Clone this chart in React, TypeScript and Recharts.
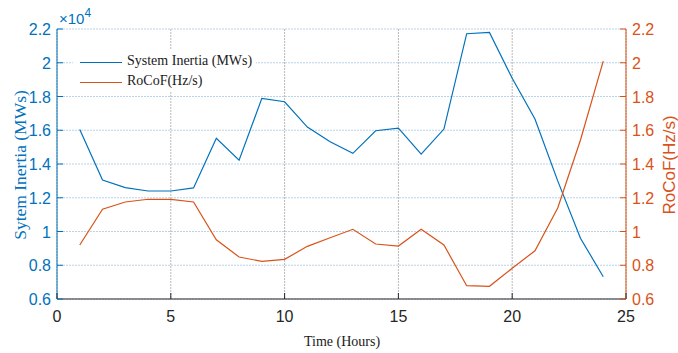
import { ComposedChart, Line, XAxis, YAxis, CartesianGrid } from "recharts";

const hours = [1, 2, 3, 4, 5, 6, 7, 8, 9, 10, 11, 12, 13, 14, 15, 16, 17, 18, 19, 20, 21, 22, 23, 24];
const inertia = [
  16050, 13050, 12600, 12400, 12400, 12580, 15520, 14220, 17890, 17690, 16190, 15320,
  14630, 15970, 16130, 14590, 16070, 21720, 21800, 19080, 16670, 13000, 9600, 7320,
];
const rocof = [
  0.92, 1.132, 1.175, 1.191, 1.19, 1.175, 0.951, 0.849, 0.823, 0.835, 0.912, 0.963,
  1.013, 0.926, 0.914, 1.013, 0.92, 0.679, 0.675, 0.782, 0.886, 1.139, 1.542, 2.01,
];
const xTicks = [0, 5, 10, 15, 20, 25];
const leftTicks = [6000, 8000, 10000, 12000, 14000, 16000, 18000, 20000, 22000];
const rightTicks = [0.6, 0.8, 1, 1.2, 1.4, 1.6, 1.8, 2, 2.2];

const data = hours.map((h, i) => ({ hour: h, inertia: inertia[i], rocof: rocof[i] }));

const BLUE = "#0072BD";
const ORANGE = "#D95319";
const SANS = "'Liberation Sans', Arial, sans-serif";
const SERIF = "'Liberation Serif', 'Times New Roman', serif";

const fmt = (v: number) => String(Math.round(v * 10) / 10);

function BottomTick(props: any) {
  const { x, y, payload } = props;
  const axisY = y - 8;
  return (
    <g>
      <line x1={x} x2={x} y1={axisY} y2={axisY - 6} stroke="#262626" />
      <text x={x} y={axisY + 23} textAnchor="middle" fontSize={16} fontFamily={SANS} fill="#262626">
        {payload.value}
      </text>
    </g>
  );
}

function TopTick(props: any) {
  const { x, y } = props;
  const axisY = y + 2;
  return <line x1={x} x2={x} y1={axisY} y2={axisY + 6} stroke="#262626" />;
}

function LeftTick(props: any) {
  const { x, y, payload } = props;
  const axisX = x + 8;
  return (
    <g>
      <line x1={axisX} x2={axisX + 6} y1={y} y2={y} stroke={BLUE} />
      <text x={axisX - 6} y={y + 6} textAnchor="end" fontSize={16} fontFamily={SANS} fill={BLUE}>
        {fmt(payload.value / 10000)}
      </text>
    </g>
  );
}

function RightTick(props: any) {
  const { x, y, payload } = props;
  const axisX = x - 8;
  return (
    <g>
      <line x1={axisX} x2={axisX - 6} y1={y} y2={y} stroke={ORANGE} />
      <text x={axisX + 6} y={y + 6} textAnchor="start" fontSize={16} fontFamily={SANS} fill={ORANGE}>
        {fmt(payload.value)}
      </text>
    </g>
  );
}

export default function App() {
  return (
    <div style={{ position: "absolute", left: 0, top: 0, width: 678, height: 353, background: "#fff" }}>
      <ComposedChart
        width={678}
        height={353}
        data={data}
        margin={{ top: 29, right: 0, left: 0, bottom: 0 }}
      >
        <CartesianGrid
          xAxisId="bottom"
          yAxisId="left"
          vertical={false}
          stroke="#b9d3ea"
          strokeDasharray="2 1"
        />
        <CartesianGrid
          xAxisId="bottom"
          yAxisId="left"
          horizontal={false}
          stroke="#b8b8b8"
          strokeDasharray="2 1"
        />
        <XAxis
          xAxisId="bottom"
          dataKey="hour"
          type="number"
          domain={[0, 25]}
          ticks={xTicks}
          height={54}
          tickSize={0}
          tickMargin={8}
          tick={<BottomTick />}
          axisLine={{ stroke: "#262626" }}
          tickLine={false}
        />
        <XAxis
          xAxisId="top"
          dataKey="hour"
          type="number"
          orientation="top"
          domain={[0, 25]}
          ticks={xTicks}
          height={0}
          tickSize={0}
          tickMargin={2}
          tick={<TopTick />}
          axisLine={{ stroke: "#262626" }}
          tickLine={false}
        />
        <YAxis
          yAxisId="left"
          type="number"
          domain={[6000, 22000]}
          ticks={leftTicks}
          width={57}
          tickSize={0}
          tickMargin={8}
          tick={<LeftTick />}
          axisLine={{ stroke: BLUE }}
          tickLine={false}
        />
        <YAxis
          yAxisId="right"
          orientation="right"
          type="number"
          domain={[0.6, 2.2]}
          ticks={rightTicks}
          width={52}
          tickSize={0}
          tickMargin={8}
          tick={<RightTick />}
          axisLine={{ stroke: ORANGE }}
          tickLine={false}
        />
        <Line
          xAxisId="bottom"
          yAxisId="left"
          dataKey="inertia"
          stroke={BLUE}
          strokeWidth={1.2}
          dot={false}
          isAnimationActive={false}
        />
        <Line
          xAxisId="bottom"
          yAxisId="right"
          dataKey="rocof"
          stroke={ORANGE}
          strokeWidth={1.2}
          dot={false}
          isAnimationActive={false}
        />
      </ComposedChart>

      <div style={{ position: "absolute", left: 59, top: 7, color: BLUE, fontFamily: SANS, fontSize: 15 }}>
        ×10<sup style={{ fontSize: 12, position: "relative", top: -1 }}>4</sup>
      </div>

      <div
        style={{
          position: "absolute",
          left: 73,
          top: 50,
          width: 183,
          height: 42,
          background: "#fff",
          fontFamily: SERIF,
          fontSize: 14,
          color: "#1a1a1a",
        }}
      >
        <div style={{ position: "absolute", left: 7, top: 12, width: 42, borderTop: `1.2px solid ${BLUE}` }} />
        <div style={{ position: "absolute", left: 54, top: 3, whiteSpace: "nowrap" }}>System Inertia (MWs)</div>
        <div style={{ position: "absolute", left: 7, top: 32, width: 42, borderTop: `1.2px solid ${ORANGE}` }} />
        <div style={{ position: "absolute", left: 54, top: 23, whiteSpace: "nowrap" }}>RoCoF(Hz/s)</div>
      </div>

      <div
        style={{
          position: "absolute",
          left: 20,
          top: 165,
          transform: "translate(-50%, -50%) rotate(-90deg)",
          whiteSpace: "nowrap",
          color: BLUE,
          fontFamily: SERIF,
          fontSize: 17.5,
        }}
      >
        Sytem Inertia (MWs)
      </div>

      <div
        style={{
          position: "absolute",
          left: 670,
          top: 165,
          transform: "translate(-50%, -50%) rotate(-90deg)",
          whiteSpace: "nowrap",
          color: ORANGE,
          fontFamily: SANS,
          fontSize: 17,
        }}
      >
        RoCoF(Hz/s)
      </div>

      <div
        style={{
          position: "absolute",
          left: 342,
          top: 342,
          transform: "translate(-50%, -50%)",
          whiteSpace: "nowrap",
          color: "#1a1a1a",
          fontFamily: SERIF,
          fontSize: 14,
        }}
      >
        Time (Hours)
      </div>
    </div>
  );
}
